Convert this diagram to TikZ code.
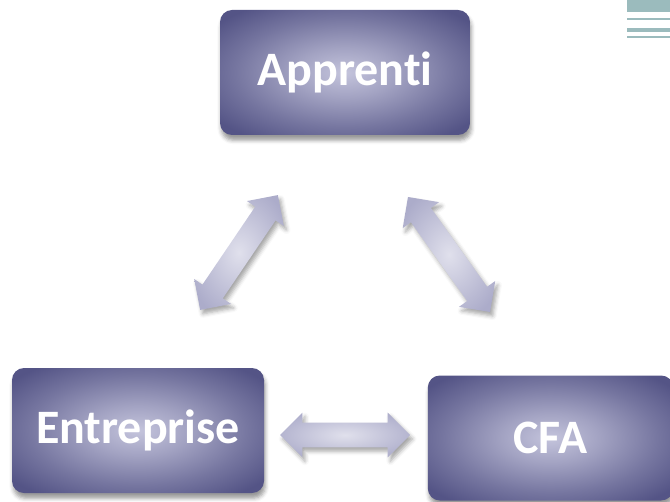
\documentclass[tikz,border=0pt]{standalone}
\usepackage{fontspec}
\setmainfont[Ligatures=NoCommon]{Carlito}
\usetikzlibrary{shapes.arrows,shadows.blur}
\definecolor{boxdark}{RGB}{84,84,134}
\definecolor{boxlight}{RGB}{196,196,220}
\definecolor{arrdark}{RGB}{172,172,202}
\definecolor{arrlight}{RGB}{224,224,236}
\definecolor{decor}{RGB}{155,187,189}
\pgfdeclareradialshading{boxglow}{\pgfpoint{0bp}{0bp}}{color(0bp)=(boxlight); color(10bp)=(boxlight!70!boxdark); color(22bp)=(boxlight!30!boxdark); color(32bp)=(boxdark); color(50bp)=(boxdark)}
\pgfdeclareradialshading{arrglow}{\pgfpoint{0bp}{0bp}}{color(0bp)=(arrlight); color(30bp)=(arrdark); color(50bp)=(arrdark)}
\tikzset{
  box/.style={rounded corners=9pt, shading=boxglow, inner sep=0pt,
    minimum height=93.75pt, text=white, font=\fontsize{36}{40}\selectfont\bfseries,
    blur shadow={shadow xshift=1pt, shadow yshift=-4pt, shadow blur radius=3pt, shadow opacity=40}},
  link/.style={double arrow, shading=arrglow, inner xsep=0pt, inner ysep=9pt,
    minimum width=33pt, double arrow head extend=7.5pt,
    blur shadow={shadow xshift=2pt, shadow yshift=-3pt, shadow blur radius=3pt, shadow opacity=35}}
}

\begin{document}
\begin{tikzpicture}[x=0.75pt,y=-0.75pt]
   \useasboundingbox (0,0) rectangle (670,502);
   % corner decoration
   \fill[decor] (627,0) rectangle (670,12);
   \fill[decor] (627,18) rectangle (670,20);
   \fill[decor] (627,28) rectangle (670,32);
   \fill[decor] (627,36) rectangle (670,38);
   % boxes
   \node[box, minimum width=187.5pt] (apprenti) at (345,72.5) {Apprenti};
   \node[box, minimum width=189pt] (entreprise) at (138,430.5) {Entreprise};
   \node[box, minimum width=184pt] (cfa) at (550.5,438) {CFA};
   % links
   \node[link, minimum height=104pt, rotate=55.9] (la) at (239,252.5) {};
   \node[link, minimum height=106pt, rotate=-54.5] (lb) at (449,254.5) {};
   \node[link, minimum height=97.5pt] (lc) at (345,435) {};
\end{tikzpicture}
\end{document}
